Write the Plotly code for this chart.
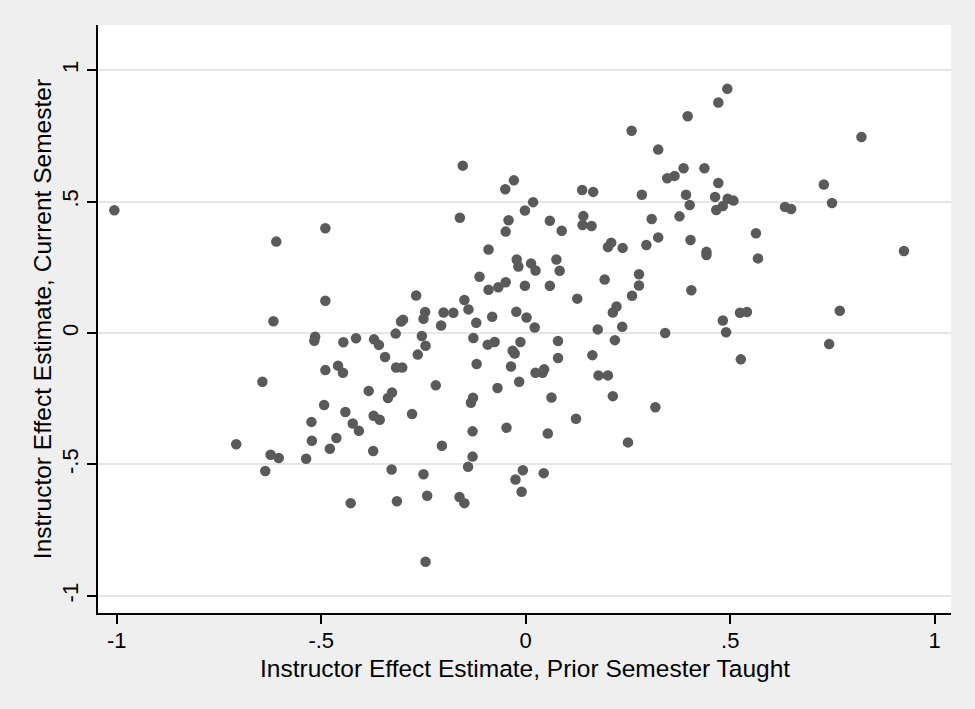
import plotly.graph_objects as go

# Instructor effect estimates: prior semester taught (x) vs current semester (y)
prior_semester = [
    -1.006, -0.610, -0.490, -0.490, -0.617, -0.515, -0.517, -0.446, -0.415, -0.371,
    -0.359, -0.318, -0.305, -0.300, -0.344, -0.317, -0.302, -0.490, -0.459, -0.447,
    -0.644, -0.384, -0.327, -0.337,
    -0.220, -0.129, -0.134, -0.493, -0.441, -0.524, -0.372, -0.357, -0.423, -0.408,
    -0.278, -0.130, -0.708, -0.523, -0.463, -0.479, -0.373, -0.205, -0.624, -0.604,
    -0.537, -0.130, -0.141, -0.637, -0.328, -0.250, -0.428, -0.315, -0.241, -0.162,
    -0.150, -0.245,
    -0.254, -0.245, -0.264, -0.128, -0.093, -0.076, -0.013, -0.032, -0.027, 0.079,
    0.218, -0.120, -0.036, 0.079, 0.163, 0.024, 0.041, 0.045, 0.178, 0.201,
    -0.016, -0.069, 0.063, 0.213, 0.123, -0.047, 0.054, 0.250, -0.007, -0.025,
    0.044, -0.010,
    -0.154, -0.161, -0.050, -0.029, 0.138, 0.165, -0.002, 0.018, -0.042, -0.049,
    0.059, 0.088, 0.141, 0.139, 0.161, -0.091, 0.209, 0.201, 0.237, -0.022,
    -0.018, 0.013, 0.024, 0.075, 0.083, -0.113, -0.049, -0.067, -0.091, -0.002,
    0.059, 0.193, 0.277, 0.277, 0.260, 0.126, -0.268, -0.150, -0.140, -0.201,
    -0.177, -0.207, -0.246, -0.250, -0.121, -0.082, -0.023, 0.002, 0.022, 0.176,
    0.222, 0.213, 0.236,
    0.493, 0.471, 0.396, 0.259, 0.821, 0.324, 0.346, 0.364, 0.386, 0.437,
    0.471, 0.729, 0.284, 0.392, 0.401, 0.463, 0.466, 0.482, 0.494, 0.508,
    0.634, 0.649, 0.749, 0.308, 0.376, 0.563, 0.295, 0.324, 0.403, 0.442,
    0.442, 0.568, 0.925, 0.405, 0.524, 0.541, 0.768,
    0.341, 0.482, 0.490, 0.742, 0.526, 0.317,
]
current_semester = [
    0.467, 0.348, 0.399, 0.123, 0.045, -0.014, -0.029, -0.035, -0.020, -0.024,
    -0.045, -0.002, 0.044, 0.051, -0.091, -0.131, -0.131, -0.141, -0.124, -0.151,
    -0.185, -0.220, -0.226, -0.247,
    -0.199, -0.246, -0.265, -0.274, -0.300, -0.338, -0.315, -0.330, -0.344, -0.372,
    -0.308, -0.374, -0.423, -0.410, -0.399, -0.440, -0.449, -0.429, -0.463, -0.475,
    -0.478, -0.470, -0.509, -0.525, -0.519, -0.537, -0.647, -0.640, -0.619, -0.624,
    -0.647, -0.870,
    -0.011, -0.048, -0.082, -0.019, -0.044, -0.034, -0.034, -0.067, -0.078, -0.030,
    -0.027, -0.118, -0.127, -0.095, -0.084, -0.151, -0.151, -0.138, -0.161, -0.161,
    -0.185, -0.209, -0.245, -0.240, -0.326, -0.360, -0.382, -0.416, -0.522, -0.557,
    -0.533, -0.604,
    0.637, 0.439, 0.547, 0.581, 0.544, 0.537, 0.466, 0.498, 0.429, 0.386,
    0.427, 0.389, 0.445, 0.411, 0.407, 0.318, 0.344, 0.327, 0.324, 0.280,
    0.253, 0.265, 0.238, 0.280, 0.237, 0.214, 0.193, 0.174, 0.165, 0.180,
    0.180, 0.204, 0.224, 0.181, 0.142, 0.131, 0.143, 0.126, 0.090, 0.078,
    0.077, 0.029, 0.080, 0.054, 0.039, 0.062, 0.081, 0.059, 0.021, 0.014,
    0.101, 0.078, 0.024,
    0.929, 0.877, 0.825, 0.770, 0.746, 0.698, 0.589, 0.598, 0.627, 0.627,
    0.571, 0.565, 0.526, 0.526, 0.487, 0.518, 0.468, 0.483, 0.511, 0.504,
    0.480, 0.472, 0.495, 0.434, 0.444, 0.380, 0.335, 0.364, 0.354, 0.309,
    0.297, 0.284, 0.312, 0.163, 0.077, 0.080, 0.085,
    0.000, 0.048, 0.003, -0.042, -0.100, -0.282,
]

tick_vals = [-1, -0.5, 0, 0.5, 1]
tick_text = ["-1", "-.5", "0", ".5", "1"]
x_title = "Instructor Effect Estimate, Prior Semester Taught"
y_title = "Instructor Effect Estimate, Current Semester"

FONT = "Liberation Sans, Arial, sans-serif"
TITLE_FS = 24.5
TICK_FS = 22

fig = go.Figure(
    go.Scatter(
        x=prior_semester,
        y=current_semester,
        mode="markers",
        marker=dict(size=10.5, color="#5a5a5a", line=dict(width=0)),
        hoverinfo="x+y",
    )
)

fig.update_layout(
    width=975,
    height=709,
    paper_bgcolor="#efefef",
    plot_bgcolor="#ffffff",
    margin=dict(l=98, r=24, t=25, b=96),
    showlegend=False,
    font=dict(family=FONT, size=TICK_FS, color="#000000"),
    annotations=[
        dict(
            text=x_title, xref="paper", yref="paper", x=0.5, y=-0.095,
            xanchor="center", yanchor="middle", showarrow=False,
            font=dict(family=FONT, size=TITLE_FS, color="#000000"),
        ),
        dict(
            text=y_title, xref="paper", yref="paper", x=-0.0655, y=0.5,
            xanchor="center", yanchor="middle", showarrow=False, textangle=-90,
            font=dict(family=FONT, size=TITLE_FS, color="#000000"),
        ),
    ],
)

fig.update_xaxes(
    range=[-1.046, 1.040],
    tickvals=tick_vals,
    ticktext=tick_text,
    ticks="outside",
    ticklen=9,
    tickwidth=1.5,
    tickcolor="#000000",
    ticklabelstandoff=-2,
    showline=True,
    linecolor="#000000",
    linewidth=1.8,
    showgrid=False,
    zeroline=False,
    tickfont=dict(family=FONT, size=TICK_FS, color="#000000"),
)

fig.update_yaxes(
    range=[-1.065, 1.172],
    tickvals=tick_vals,
    ticktext=tick_text,
    tickangle=-90,
    ticks="outside",
    ticklen=9,
    tickwidth=1.5,
    tickcolor="#000000",
    showline=True,
    linecolor="#000000",
    linewidth=1.8,
    showgrid=True,
    gridcolor="#e6e6e6",
    gridwidth=1.5,
    zeroline=False,
    tickfont=dict(family=FONT, size=TICK_FS, color="#000000"),
)

fig.write_html(
    "out.html",
    config={"displayModeBar": False},
    post_script="document.body.style.margin='0';document.body.style.overflow='hidden';",
)
